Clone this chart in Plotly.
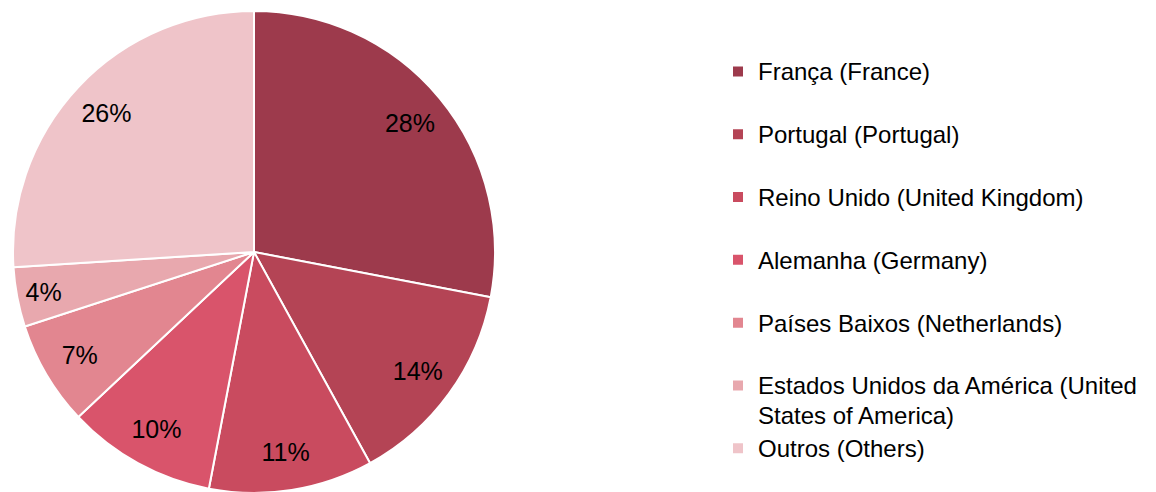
import plotly.graph_objects as go

countries = [
    'França (France)',
    'Portugal (Portugal)',
    'Reino Unido (United Kingdom)',
    'Alemanha (Germany)',
    'Países Baixos (Netherlands)',
    'Estados Unidos da América (United<br>States of America)',
    'Outros (Others)',
]
shares = [28, 14, 11, 10, 7, 4, 26]
colors = ['#9D3A4C', '#B44455', '#C94B5F', '#D9546B', '#E28690', '#E8A8AE', '#EFC4C9']

# every legend entry takes two lines so the spacing matches,
# the text itself is a bit bigger than the legend font
legend_labels = []
for c in countries:
    if '<br>' not in c:
        c = c + '<br> '
    parts = c.split('<br>')
    legend_labels.append('<br>'.join('<span style="font-size:24px">%s</span>' % p for p in parts))

pie_domain = dict(x=[5 / 1156, 487 / 1156], y=[0, 1])
font_family = 'Liberation Sans, Arial, sans-serif'

fig = go.Figure()

fig.add_trace(go.Pie(
    labels=legend_labels,
    values=shares,
    sort=False,
    direction='clockwise',
    rotation=0,
    textinfo='none',
    marker=dict(colors=colors, line=dict(color='#FFFFFF', width=2)),
    domain=pie_domain,
    hoverinfo='label+percent',
))

# transparent ring on top, only to put the percentages near the rim
fig.add_trace(go.Pie(
    labels=legend_labels,
    values=shares,
    sort=False,
    direction='clockwise',
    rotation=0,
    hole=0.68,
    textinfo='percent',
    textposition='inside',
    insidetextorientation='horizontal',
    textfont=dict(size=25, color='#000000', family=font_family),
    marker=dict(colors=['rgba(0,0,0,0)'] * len(shares), line=dict(width=0)),
    domain=pie_domain,
    showlegend=False,
    hoverinfo='skip',
))

fig.update_layout(
    width=1156,
    height=492,
    margin=dict(l=0, r=0, t=3, b=7),
    paper_bgcolor='white',
    plot_bgcolor='white',
    font=dict(family=font_family, color='#000000'),
    uniformtext=dict(mode='show', minsize=25),
    legend=dict(
        x=710 / 1156,
        y=(485 - 53) / 482,
        xanchor='left',
        yanchor='top',
        valign='top',
        font=dict(size=23, color='#000000'),
        bgcolor='rgba(0,0,0,0)',
    ),
    showlegend=True,
)

fig.write_html("out.html")
